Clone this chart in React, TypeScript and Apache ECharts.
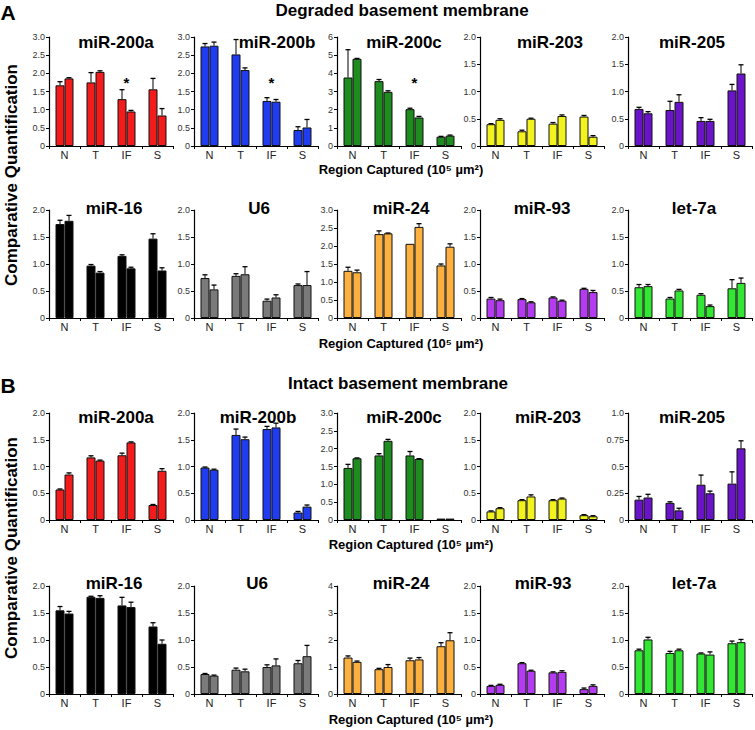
import React, { useEffect, useRef } from "react";
import * as echarts from "echarts";

const FONT = '"Liberation Sans", Arial, Helvetica, sans-serif';

const categories = ["N", "T", "IF", "S"];

const panelNames = ["miR-200a", "miR-200b", "miR-200c", "miR-203", "miR-205", "miR-16", "U6", "miR-24", "miR-93", "let-7a"];
const panelColors = ["#f21c1c", "#1f3cf0", "#1f8c1f", "#f2f21e", "#6a14c8", "#000000", "#7a7a7a", "#fbb040", "#b43cf0", "#33e633"];

// Degraded basement membrane (A)
const degradedBar1 = [
  [1.67, 1.75, 1.29, 1.56],
  [2.74, 2.52, 1.24, 0.44],
  [3.77, 3.57, 2.03, 0.51],
  [0.40, 0.27, 0.41, 0.54],
  [0.68, 0.66, 0.46, 1.02],
  [1.74, 0.97, 1.15, 1.47],
  [0.74, 0.78, 0.32, 0.61],
  [1.31, 2.33, 2.06, 1.46],
  [0.36, 0.35, 0.38, 0.54],
  [0.57, 0.36, 0.43, 0.55],
];
const degradedErr1 = [
  [1.77, 2.02, 1.55, 1.86],
  [2.82, 2.93, 1.33, 0.53],
  [5.30, 3.66, 2.08, 0.53],
  [0.41, 0.29, 0.43, 0.56],
  [0.71, 0.82, 0.52, 1.13],
  [1.81, 0.99, 1.17, 1.56],
  [0.80, 0.82, 0.35, 0.63],
  [1.41, 2.42, 2.06, 1.50],
  [0.38, 0.36, 0.39, 0.55],
  [0.62, 0.38, 0.45, 0.71],
];
const degradedBar2 = [
  [1.86, 2.04, 0.95, 0.84],
  [2.76, 2.09, 1.22, 0.51],
  [4.80, 2.98, 1.57, 0.57],
  [0.48, 0.50, 0.55, 0.17],
  [0.60, 0.81, 0.46, 1.33],
  [1.80, 0.84, 0.92, 0.88],
  [0.53, 0.81, 0.38, 0.61],
  [1.27, 2.35, 2.53, 1.98],
  [0.33, 0.29, 0.32, 0.48],
  [0.59, 0.51, 0.22, 0.65],
];
const degradedErr2 = [
  [1.88, 2.07, 0.98, 1.03],
  [2.86, 2.15, 1.28, 0.73],
  [4.82, 3.04, 1.63, 0.60],
  [0.50, 0.51, 0.57, 0.19],
  [0.63, 0.94, 0.49, 1.49],
  [1.90, 0.86, 0.94, 0.93],
  [0.61, 0.95, 0.43, 0.86],
  [1.33, 2.36, 2.62, 2.06],
  [0.35, 0.30, 0.33, 0.51],
  [0.62, 0.53, 0.24, 0.74],
];

// Intact basement membrane (B)
const intactBar1 = [
  [0.57, 1.17, 1.21, 0.28],
  [0.98, 1.59, 1.70, 0.14],
  [1.46, 1.81, 1.81, 0.04],
  [0.16, 0.37, 0.37, 0.09],
  [0.19, 0.16, 0.33, 0.34],
  [1.55, 1.80, 1.64, 1.25],
  [0.37, 0.45, 0.50, 0.57],
  [1.35, 0.92, 1.25, 1.77],
  [0.15, 0.57, 0.40, 0.09],
  [0.81, 0.76, 0.75, 0.94],
];
const intactErr1 = [
  [0.58, 1.20, 1.25, 0.29],
  [0.99, 1.70, 1.75, 0.16],
  [1.56, 1.86, 1.92, 0.04],
  [0.17, 0.38, 0.38, 0.10],
  [0.22, 0.17, 0.42, 0.45],
  [1.62, 1.81, 1.79, 1.32],
  [0.38, 0.48, 0.54, 0.62],
  [1.41, 0.95, 1.33, 1.90],
  [0.16, 0.58, 0.41, 0.11],
  [0.83, 0.79, 0.76, 0.98],
];
const intactBar2 = [
  [0.85, 1.11, 1.45, 0.92],
  [0.94, 1.51, 1.73, 0.25],
  [1.73, 2.22, 1.71, 0.04],
  [0.22, 0.44, 0.40, 0.07],
  [0.21, 0.09, 0.25, 0.67],
  [1.49, 1.78, 1.61, 0.93],
  [0.34, 0.42, 0.53, 0.70],
  [1.19, 1.00, 1.28, 1.99],
  [0.17, 0.43, 0.41, 0.15],
  [1.01, 0.81, 0.73, 0.96],
];
const intactErr2 = [
  [0.88, 1.12, 1.46, 0.96],
  [0.95, 1.55, 1.81, 0.28],
  [1.74, 2.26, 1.72, 0.04],
  [0.23, 0.47, 0.41, 0.08],
  [0.24, 0.11, 0.27, 0.74],
  [1.53, 1.82, 1.70, 1.00],
  [0.35, 0.46, 0.65, 0.90],
  [1.22, 1.09, 1.35, 2.27],
  [0.18, 0.44, 0.43, 0.17],
  [1.05, 0.83, 0.78, 1.01],
];

// axis ranges and tick labels
const degradedMax = [3, 3, 6, 2, 2, 2, 2, 3, 2, 2];
const degradedInterval = [0.5, 0.5, 1, 0.5, 0.5, 0.5, 0.5, 0.5, 0.5, 0.5];
const intactMax = [2, 2, 3, 2, 1, 2, 2, 4, 2, 2];
const intactInterval = [0.5, 0.5, 0.5, 0.5, 0.25, 0.5, 0.5, 1, 0.5, 0.5];

const ticks3 = ["0", "0.5", "1.0", "1.5", "2.0", "2.5", "3.0"];
const ticks2 = ["0", "0.5", "1.0", "1.5", "2.0"];
const ticks1q = ["0", "0.25", "0.5", "0.75", "1.0"];
const ticks6 = ["0", "1", "2", "3", "4", "5", "6"];
const ticks4 = ["0", "1", "2", "3", "4"];
const degradedTicks = [ticks3, ticks3, ticks6, ticks2, ticks2, ticks2, ticks2, ticks3, ticks2, ticks2];
const intactTicks = [ticks2, ticks2, ticks3, ticks2, ticks1q, ticks2, ticks2, ticks4, ticks2, ticks2];

// significance marks (degraded, above IF)
const asteriskPanels = [0, 1, 2];
const asteriskLevels = [1.74, 1.74, 3.48];

// layout
const colLeft = [49, 194, 337, 480, 628];
const gridWidth = 124;
const rowTop = [37, 210, 413, 586];
const rowBottom = [146, 318, 520, 694];
const titleY = [42, 208, 417, 583];
const titleX = [
  [116, 277, 404, 550, 692],
  [114, 259, 401, 542, 694],
  [116, 258, 404, 548, 692],
  [114, 257, 401, 543, 694],
];
const regionLabelPos = [
  [401, 169],
  [401, 343],
  [411, 544],
  [411, 719],
];

function buildOption() {
  const grids: any[] = [];
  const xAxes: any[] = [];
  const yAxes: any[] = [];
  const series: any[] = [];
  const graphics: any[] = [];

  const sections = [
    { b1: degradedBar1, e1: degradedErr1, b2: degradedBar2, e2: degradedErr2, max: degradedMax, iv: degradedInterval, ticks: degradedTicks },
    { b1: intactBar1, e1: intactErr1, b2: intactBar2, e2: intactErr2, max: intactMax, iv: intactInterval, ticks: intactTicks },
  ];

  sections.forEach((sec, s) => {
    for (let p = 0; p < 10; p++) {
      const r = Math.floor(p / 5);
      const c = p % 5;
      const row = s * 2 + r;
      const idx = s * 10 + p;
      grids.push({
        left: colLeft[c],
        top: rowTop[row],
        width: gridWidth,
        height: rowBottom[row] - rowTop[row],
      });
      xAxes.push({
        type: "category",
        gridIndex: idx,
        data: categories,
        axisLine: { lineStyle: { color: "#000", width: 1.2 } },
        axisTick: { show: true, length: 3, lineStyle: { color: "#000" } },
        axisLabel: { fontSize: 11, color: "#222", margin: 3, fontFamily: FONT },
      });
      const tl = sec.ticks[p];
      yAxes.push({
        type: "value",
        gridIndex: idx,
        min: 0,
        max: sec.max[p],
        interval: sec.iv[p],
        splitLine: { show: false },
        axisLine: { show: true, lineStyle: { color: "#000", width: 1.2 } },
        axisTick: { show: true, length: 3, lineStyle: { color: "#000" } },
        axisLabel: {
          fontSize: 9,
          color: "#333",
          margin: 4,
          fontFamily: FONT,
          formatter: (_v: number, i: number) => tl[i] ?? "",
        },
      });
      const color = panelColors[p];
      const itemStyle = { color, borderColor: "#111", borderWidth: 1 };
      series.push({
        type: "bar",
        name: panelNames[p] + " a",
        xAxisIndex: idx,
        yAxisIndex: idx,
        data: sec.b1[p],
        barWidth: 9,
        barGap: "0%",
        itemStyle,
        silent: true,
      });
      series.push({
        type: "bar",
        name: panelNames[p] + " b",
        xAxisIndex: idx,
        yAxisIndex: idx,
        data: sec.b2[p],
        barWidth: 9,
        barGap: "0%",
        itemStyle,
        silent: true,
      });
      const errData: number[][] = [];
      for (let k = 0; k < 4; k++) {
        if (sec.e1[p][k] > sec.b1[p][k] + 0.001) errData.push([k, sec.e1[p][k], sec.b1[p][k], 0]);
        if (sec.e2[p][k] > sec.b2[p][k] + 0.001) errData.push([k, sec.e2[p][k], sec.b2[p][k], 1]);
      }
      series.push({
        type: "custom",
        xAxisIndex: idx,
        yAxisIndex: idx,
        data: errData,
        encode: { x: 0, y: 1 },
        z: 5,
        silent: true,
        renderItem: (_params: any, api: any) => {
          const cat = api.value(0);
          const top = api.coord([cat, api.value(1)]);
          const base = api.coord([cat, api.value(2)]);
          const x = top[0] + (api.value(3) === 0 ? -4.5 : 4.5);
          return {
            type: "group",
            children: [
              { type: "line", shape: { x1: x, y1: base[1], x2: x, y2: top[1] }, style: { stroke: "#000", lineWidth: 1 } },
              { type: "line", shape: { x1: x - 2.5, y1: top[1], x2: x + 2.5, y2: top[1] }, style: { stroke: "#000", lineWidth: 1.3 } },
            ],
          };
        },
      });
      if (s === 0 && asteriskPanels.includes(p)) {
        const lvl = asteriskLevels[asteriskPanels.indexOf(p)];
        series.push({
          type: "custom",
          xAxisIndex: idx,
          yAxisIndex: idx,
          data: [[2, lvl]],
          encode: { x: 0, y: 1 },
          z: 6,
          silent: true,
          renderItem: (_params: any, api: any) => {
            const pt = api.coord([api.value(0), api.value(1)]);
            return {
              type: "text",
              x: pt[0],
              y: pt[1],
              style: { text: "*", font: `bold 15px ${FONT}`, fill: "#000", align: "center", verticalAlign: "middle" },
            };
          },
        });
      }
      graphics.push({
        type: "text",
        x: titleX[row][c],
        y: titleY[row],
        style: { text: panelNames[p], font: `bold 17px ${FONT}`, fill: "#000", align: "center", verticalAlign: "middle" },
      });
    }
  });

  // section headings and labels
  graphics.push(
    { type: "text", x: 8, y: 12, style: { text: "A", font: `bold 21px ${FONT}`, fill: "#000", align: "center", verticalAlign: "middle" } },
    { type: "text", x: 402, y: 10, style: { text: "Degraded basement membrane", font: `bold 17px ${FONT}`, fill: "#000", align: "center", verticalAlign: "middle" } },
    { type: "text", x: 8, y: 385, style: { text: "B", font: `bold 21px ${FONT}`, fill: "#000", align: "center", verticalAlign: "middle" } },
    { type: "text", x: 398, y: 383, style: { text: "Intact basement membrane", font: `bold 17px ${FONT}`, fill: "#000", align: "center", verticalAlign: "middle" } },
    { type: "text", x: 11, y: 175, rotation: Math.PI / 2, style: { text: "Comparative Quantification", font: `bold 17px ${FONT}`, fill: "#000", align: "center", verticalAlign: "middle" } },
    { type: "text", x: 11, y: 548, rotation: Math.PI / 2, style: { text: "Comparative Quantification", font: `bold 17px ${FONT}`, fill: "#000", align: "center", verticalAlign: "middle" } }
  );
  regionLabelPos.forEach(([x, y]) => {
    graphics.push({
      type: "text",
      x,
      y,
      style: { text: "Region Captured (10⁵ µm²)", font: `bold 13px ${FONT}`, fill: "#000", align: "center", verticalAlign: "middle" },
    });
  });

  return {
    animation: false,
    backgroundColor: "#fff",
    grid: grids,
    xAxis: xAxes,
    yAxis: yAxes,
    series,
    graphic: { elements: graphics },
  };
}

export default function App() {
  const ref = useRef<HTMLDivElement>(null);
  useEffect(() => {
    document.body.style.margin = "0";
    const chart = echarts.init(ref.current as HTMLDivElement, null, { renderer: "svg" });
    chart.setOption(buildOption() as any);
    return () => chart.dispose();
  }, []);
  return <div ref={ref} style={{ width: 755, height: 730 }} />;
}
